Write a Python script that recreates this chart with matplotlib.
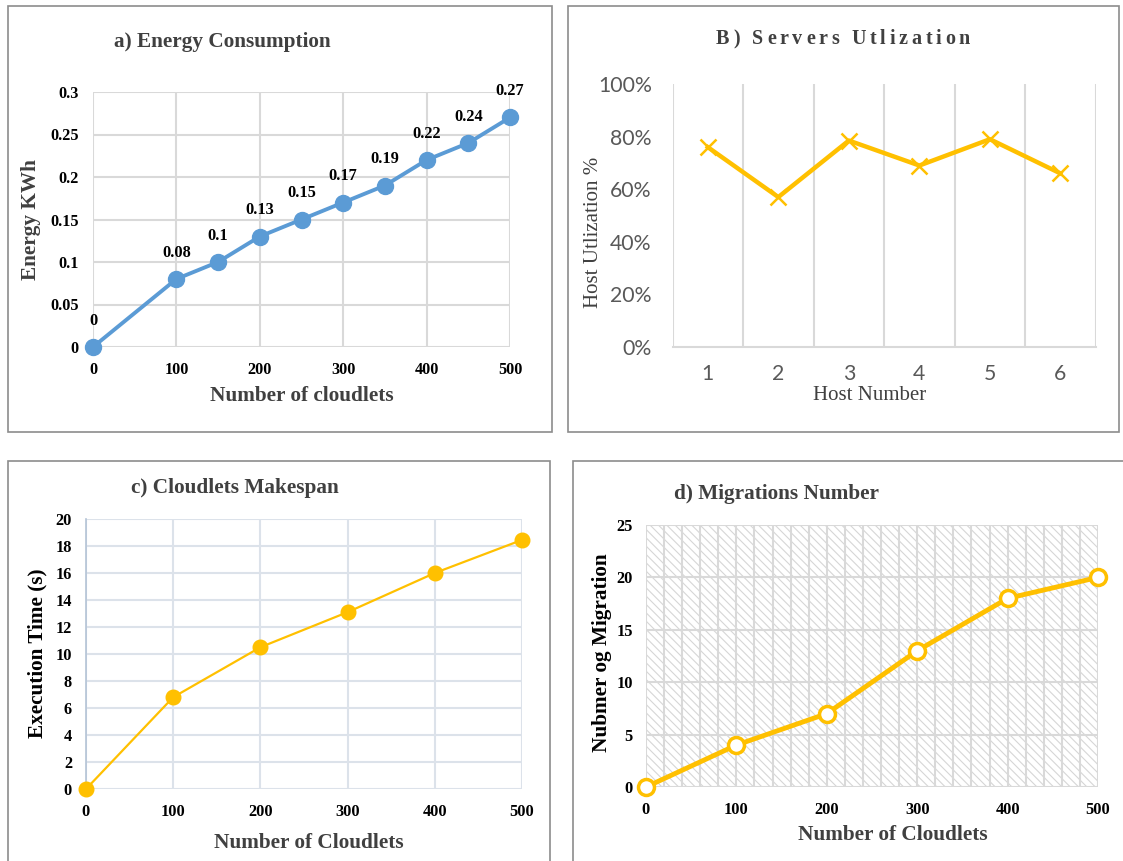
import matplotlib
matplotlib.use('Agg')
from matplotlib import pyplot as plt
from matplotlib.patches import Rectangle
from matplotlib.ticker import FuncFormatter

plt.rcParams['font.family'] = 'Liberation Serif'
plt.rcParams['hatch.linewidth'] = 0.8

# energy consumption per number of cloudlets
energy_x = [0, 100, 150, 200, 250, 300, 350, 400, 450, 500]
energy_kwh = [0, 0.08, 0.1, 0.13, 0.15, 0.17, 0.19, 0.22, 0.24, 0.27]

# utilization of each host
hosts = [1, 2, 3, 4, 5, 6]
host_util = [76, 57, 78.5, 69, 79, 66]

# makespan and migrations per number of cloudlets
cloudlets = [0, 100, 200, 300, 400, 500]
makespan = [0, 6.8, 10.5, 13.1, 16.0, 18.45]
migrations = [0, 4, 7, 13, 18, 20]

W, H = 1123, 861
BLUE = '#5B9BD5'
GOLD = '#FFC000'
GRID = '#D9D9D9'
DARK = '#404040'
LABEL_FS = 15.3

fig = plt.figure(figsize=(W / 100, H / 100), dpi=100)


def px(x, y):
    return x / W, 1 - y / H


def add_ax(left, top, right, bottom):
    return fig.add_axes([left / W, 1 - bottom / H, (right - left) / W, (bottom - top) / H])


def frame(left, top, right, bottom):
    fig.patches.append(Rectangle(px(left, bottom), (right - left) / W, (bottom - top) / H,
                                 transform=fig.transFigure, fill=False,
                                 edgecolor='#8C8C8C', linewidth=1.2, zorder=0))


def spaced_text(cx, cy, s, total_w, **kw):
    # draw a string char by char so the letters can be spread out
    r = fig.canvas.get_renderer()

    def width(txt):
        t = fig.text(0, 0, txt, **kw)
        w = t.get_window_extent(r).width
        t.remove()
        return w

    space = width('x x') - width('xx')
    widths = [space if ch == ' ' else width(ch) for ch in s]
    gap = (total_w - sum(widths)) / (len(s) - 1)
    x = cx - total_w / 2
    for ch, w in zip(s, widths):
        if ch != ' ':
            fig.text(*px(x, cy), ch, ha='left', va='center', **kw)
        x += w + gap


def plain_axes(ax):
    for sp in ax.spines.values():
        sp.set_visible(False)
    ax.tick_params(length=0)
    ax.set_axisbelow(True)


def bold_ticks(ax, size):
    for lab in ax.get_xticklabels() + ax.get_yticklabels():
        lab.set_fontweight('bold')
        lab.set_fontsize(size)


frame(8, 6, 552, 432)
frame(568, 6, 1119, 432)
frame(8, 461, 550, 880)
frame(573, 461, 1140, 880)

# ---- a) energy consumption
ax = add_ax(93, 92, 510, 347)
plain_axes(ax)
ax.plot(energy_x, energy_kwh, color=BLUE, lw=2.8, marker='o', ms=11.5, clip_on=False, zorder=3)
for x, y in zip(energy_x, energy_kwh):
    ax.annotate(f'{y:g}', (x, y), xytext=(0, 19), textcoords='offset points',
                ha='center', va='center', fontsize=11.8, fontweight='bold')
ax.set_xlim(0, 500)
ax.set_ylim(0, 0.3)
ax.set_xticks(range(0, 501, 100))
ax.set_yticks([0, 0.05, 0.1, 0.15, 0.2, 0.25, 0.3])
ax.yaxis.set_major_formatter(FuncFormatter(lambda v, p: f'{v:g}'))
ax.grid(True, color=GRID, lw=1.5)
ax.tick_params(axis='x', pad=11)
ax.tick_params(axis='y', pad=10.5)
bold_ticks(ax, 11.7)
fig.text(*px(222, 42), 'a) Energy Consumption', ha='center', va='center',
         fontsize=LABEL_FS, fontweight='bold', color=DARK)
fig.text(*px(302, 396), 'Number of cloudlets', ha='center', va='center',
         fontsize=LABEL_FS, fontweight='bold', color=DARK)
fig.text(*px(31, 220), 'Energy KWh', ha='center', va='center', rotation=90,
         fontsize=LABEL_FS, fontweight='bold', color=DARK)

# ---- B) servers utilization
ax = add_ax(672.5, 84, 1095.7, 347)
plain_axes(ax)
ax.plot(hosts, host_util, color=GOLD, lw=3.2, marker='x', ms=12, mew=1.8, zorder=3)
ax.set_xlim(0.5, 6.5)
ax.set_ylim(0, 100)
ax.set_xticks(hosts)
ax.set_yticks(range(0, 101, 20))
ax.yaxis.set_major_formatter(FuncFormatter(lambda v, p: f'{v:.0f}%'))
ax.set_xticks([h + 0.5 for h in [0] + hosts], minor=True)
ax.grid(True, which='minor', axis='x', color=GRID, lw=1.5)
ax.spines['bottom'].set_visible(True)
ax.spines['bottom'].set_color(GRID)
ax.spines['bottom'].set_linewidth(1.5)
ax.tick_params(which='both', length=0)
ax.tick_params(axis='y', pad=15)
ax.tick_params(axis='x', pad=12)
for lab in ax.get_xticklabels() + ax.get_yticklabels():
    lab.set_fontfamily('Lato')
    lab.set_fontsize(15.3)
    lab.set_color('#595959')
spaced_text(843, 39, 'B) Servers Utlization', 254, fontsize=14.5, fontweight='bold', color=DARK)
fig.text(*px(870, 396), 'Host Number', ha='center', va='center', fontsize=15, color=DARK)
fig.text(*px(594, 232), 'Host Utlization %', ha='center', va='center', rotation=90,
         fontsize=15, color=DARK)

# ---- c) cloudlets makespan
ax = add_ax(86, 519, 522, 789)
plain_axes(ax)
ax.plot(cloudlets, makespan, color=GOLD, lw=1.6, marker='o', ms=10.5, clip_on=False, zorder=3)
ax.set_xlim(0, 500)
ax.set_ylim(0, 20)
ax.set_xticks(cloudlets)
ax.set_yticks(range(0, 21, 2))
ax.grid(True, color='#DCE2EA', lw=1.5)
ax.spines['left'].set_visible(True)
ax.spines['left'].set_color('#B4C3D6')
ax.spines['left'].set_linewidth(1.2)
ax.tick_params(axis='x', pad=11)
ax.tick_params(axis='y', pad=10)
bold_ticks(ax, 11.8)
fig.text(*px(235, 488), 'c) Cloudlets Makespan', ha='center', va='center',
         fontsize=LABEL_FS, fontweight='bold', color=DARK)
fig.text(*px(309, 843), 'Number of Cloudlets', ha='center', va='center',
         fontsize=LABEL_FS, fontweight='bold', color=DARK)
fig.text(*px(37, 653), 'Execution Time (s)', ha='center', va='center', rotation=90,
         fontsize=LABEL_FS, fontweight='bold', color='black')

# ---- d) migrations number
ax = add_ax(646, 525, 1098, 787)
plain_axes(ax)
ax.add_patch(Rectangle((0, 0), 1, 1, transform=ax.transAxes, facecolor='white',
                       edgecolor='#D6D6D6', hatch='\\\\\\\\', linewidth=0, zorder=0))
ax.plot(cloudlets, migrations, color=GOLD, lw=3.5, marker='o', ms=11.5, mfc='white',
        mec=GOLD, mew=2.5, clip_on=False, zorder=3)
ax.set_xlim(0, 500)
ax.set_ylim(0, 25)
ax.set_xticks(cloudlets)
ax.set_xticks(range(0, 501, 20), minor=True)
ax.set_yticks(range(0, 26, 5))
ax.grid(True, which='both', axis='x', color=GRID, lw=1.5, zorder=1)
ax.grid(True, axis='y', color=GRID, lw=1.5, zorder=1)
ax.tick_params(which='both', length=0)
ax.tick_params(axis='x', pad=11)
ax.tick_params(axis='y', pad=9.5)
bold_ticks(ax, 11.8)
fig.text(*px(777, 494), 'd) Migrations Number', ha='center', va='center',
         fontsize=LABEL_FS, fontweight='bold', color=DARK)
fig.text(*px(893, 835), 'Number of Cloudlets', ha='center', va='center',
         fontsize=LABEL_FS, fontweight='bold', color=DARK)
fig.text(*px(602, 653), 'Nubmer og Migration', ha='center', va='center', rotation=90,
         fontsize=LABEL_FS, fontweight='bold', color='black')

fig.savefig('out.png', dpi=100)
